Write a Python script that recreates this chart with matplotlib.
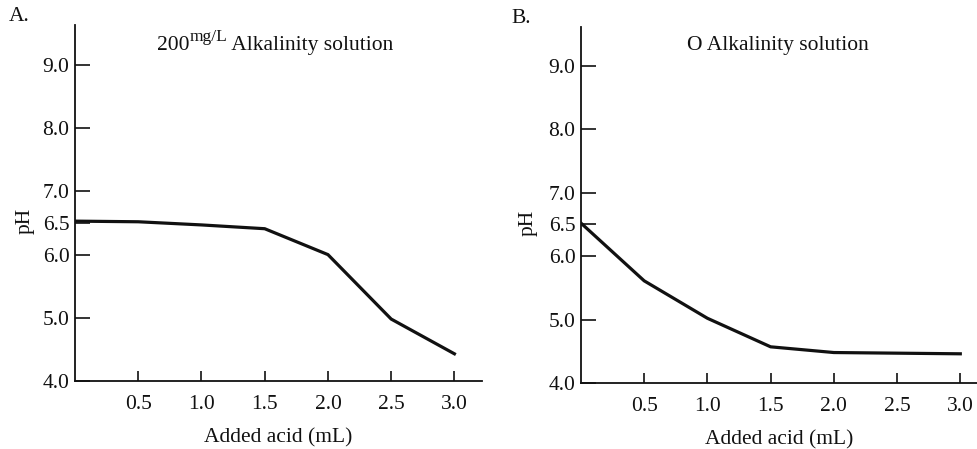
import matplotlib
matplotlib.use("Agg")
import matplotlib.pyplot as plt

plt.rcParams["font.family"] = ["Liberation Serif", "DejaVu Serif"]

acid = [0.0, 0.5, 1.0, 1.5, 2.0, 2.5, 3.0]
ph_200 = [6.53, 6.52, 6.47, 6.41, 6.0, 4.98, 4.43]
ph_0 = [6.52, 5.61, 5.02, 4.57, 4.48, 4.47, 4.46]

xticks = [0.5, 1.0, 1.5, 2.0, 2.5, 3.0]
yticks = [4.0, 5.0, 6.0, 6.5, 7.0, 8.0, 9.0]

INK = "#111111"
FS = 15.5

fig = plt.figure(figsize=(9.78, 4.49), dpi=100)
fig.patch.set_facecolor("white")

def panel(rect, ph, xmax, ymax, letter, label_xy):
    ax = fig.add_axes(rect)
    ax.plot(acid, ph, color=INK, lw=2.3, solid_joinstyle="miter")
    ax.set_xlim(0, xmax)
    ax.set_ylim(4.0, ymax)
    for s in ("top", "right"):
        ax.spines[s].set_visible(False)
    for s in ("left", "bottom"):
        ax.spines[s].set_linewidth(1.3)
        ax.spines[s].set_color(INK)
    ax.set_xticks(xticks)
    ax.set_xticklabels([f"{v:.1f}" for v in xticks])
    ax.set_yticks(yticks)
    ax.set_yticklabels([f"{v:.1f}" for v in yticks])
    ax.tick_params(axis="x", direction="in", length=7, width=1.2, pad=10,
                   labelsize=FS, colors=INK)
    ax.tick_params(axis="y", direction="in", length=11, width=1.2, pad=4,
                   labelsize=FS, colors=INK)
    ax.set_xlabel("Added acid (mL)", fontsize=FS, color=INK, labelpad=10)
    ax.set_ylabel("pH", fontsize=FS, color=INK)
    ax.yaxis.set_label_coords(*label_xy)
    fig.text(letter[1], letter[2], letter[0], fontsize=FS, color=INK,
             ha="left", va="center")
    return ax

axA = panel([0.0767, 0.1515, 0.416, 0.7929], ph_200, 3.217, 9.635,
            ("A.", 0.009, 0.963), (-0.1, 0.45))
axB = panel([0.594, 0.147, 0.406, 0.793], ph_0, 3.14, 9.61,
            ("B.", 0.523, 0.958), (-0.11, 0.45))

# title A: 200 with a raised "mg/L"
t1 = axA.text(0.201, 0.93, "200", transform=axA.transAxes, fontsize=FS,
              color=INK, ha="left", va="baseline")
t2 = axA.annotate("mg/L", xy=(1.0, 0.5), xycoords=t1, fontsize=12.5,
                  color=INK, ha="left", va="bottom")
axA.annotate(" Alkalinity solution", xy=(1.0, 0.0), xycoords=(t2, t1),
             fontsize=FS, color=INK, ha="left", va="bottom")

axB.text(0.495, 0.935, "O Alkalinity solution", transform=axB.transAxes,
         fontsize=FS, color=INK, ha="center", va="baseline")

fig.savefig("out.png", dpi=100, facecolor="white")
